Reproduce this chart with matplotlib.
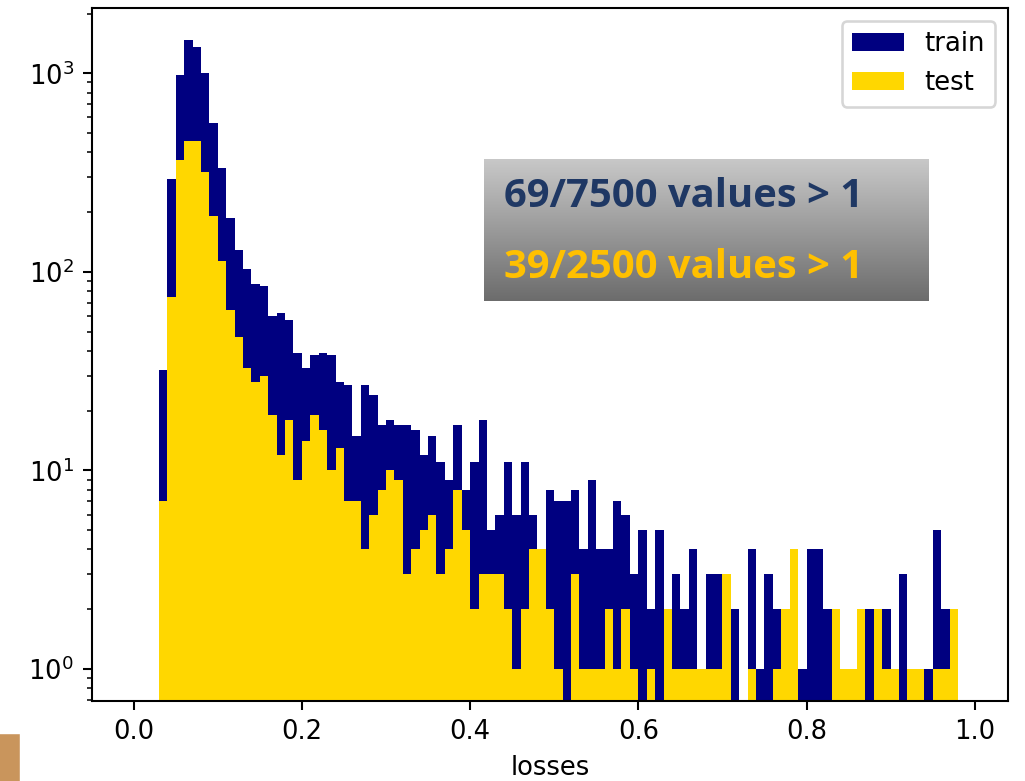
import numpy as np
import matplotlib.pyplot as plt
from matplotlib.patches import Rectangle

# histogram bins of width 0.01 from 0.00 to 0.99
bin_edges = np.round(np.arange(0.0, 1.0, 0.01), 2)

# counts for the bins 0.03 ... 0.98 (all other bins are empty)
train_counts = [32, 295, 985, 1480, 1352, 1000, 560, 334, 187, 129,
                104, 87, 85, 60, 62, 57, 39, 33, 38, 39,
                38, 28, 27, 15, 27, 24, 17, 18, 17, 17,
                16, 12, 15, 11, 9, 17, 8, 11, 18, 5,
                6, 11, 6, 11, 6, 4, 8, 7, 7, 8,
                4, 9, 4, 4, 7, 6, 3, 5, 2, 5,
                2, 3, 2, 4, 1, 3, 3, 3, 2, 0,
                4, 1, 3, 2, 2, 4, 1, 4, 4, 2,
                2, 1, 1, 2, 2, 2, 2, 1, 3, 1,
                1, 1, 5, 2, 2]
test_counts = [7, 75, 368, 455, 455, 318, 191, 114, 64, 47,
               33, 28, 30, 19, 12, 18, 9, 14, 19, 16,
               10, 13, 7, 7, 4, 6, 8, 10, 9, 3,
               4, 5, 6, 3, 4, 8, 5, 2, 3, 3,
               3, 2, 1, 2, 4, 4, 2, 1, 0, 3,
               1, 1, 1, 2, 1, 2, 1, 0, 1, 0,
               2, 1, 1, 1, 1, 1, 1, 3, 0, 0,
               1, 0, 0, 1, 2, 4, 0, 0, 0, 0,
               2, 1, 1, 2, 0, 2, 1, 1, 0, 1,
               1, 0, 1, 1, 2]
empty_before = 3
empty_after = 1

train_text = "69/7500 values > 1"
test_text = "39/2500 values > 1"

train_full = [0] * empty_before + train_counts + [0] * empty_after
test_full = [0] * empty_before + test_counts + [0] * empty_after

W, H, DPI = 1025, 781, 186
fig = plt.figure(figsize=(W / DPI, H / DPI), dpi=DPI)
ax = fig.add_axes([92 / W, 80 / H, 916 / W, 693 / H])

ax.hist(bin_edges[:-1], bins=bin_edges, weights=train_full, histtype='stepfilled',
        log=True, color='navy', label='train')
ax.hist(bin_edges[:-1], bins=bin_edges, weights=test_full, histtype='stepfilled',
        log=True, color='gold', label='test')
ax.set_xlim(-0.0495, 1.0395)
ax.set_ylim(0.69, 2135)
ax.set_xlabel('losses')
ax.legend(loc='upper right')

# gradient box with the counts above 1
box = fig.add_axes([484 / W, 1 - 300.7 / H, 445 / W, 141.4 / H])
grad = np.linspace(200, 108, 256)[:, None] / 255.0
box.imshow(np.dstack([grad, grad, grad]), aspect='auto', extent=(0, 1, 0, 1))
box.set_axis_off()
box.text(0.045, 0.663, train_text, color='#1f3864', fontsize=15.5,
         fontweight='bold', family='Open Sans', va='baseline', transform=box.transAxes)
box.text(0.045, 0.161, test_text, color='#ffc000', fontsize=15.5,
         fontweight='bold', family='Open Sans', va='baseline', transform=box.transAxes)

# little slide corner mark
fig.patches.append(Rectangle((0, 0), 18 / W, 46 / H, transform=fig.transFigure,
                             color='#c9955c', zorder=0))

fig.savefig('out.png', dpi=DPI)
